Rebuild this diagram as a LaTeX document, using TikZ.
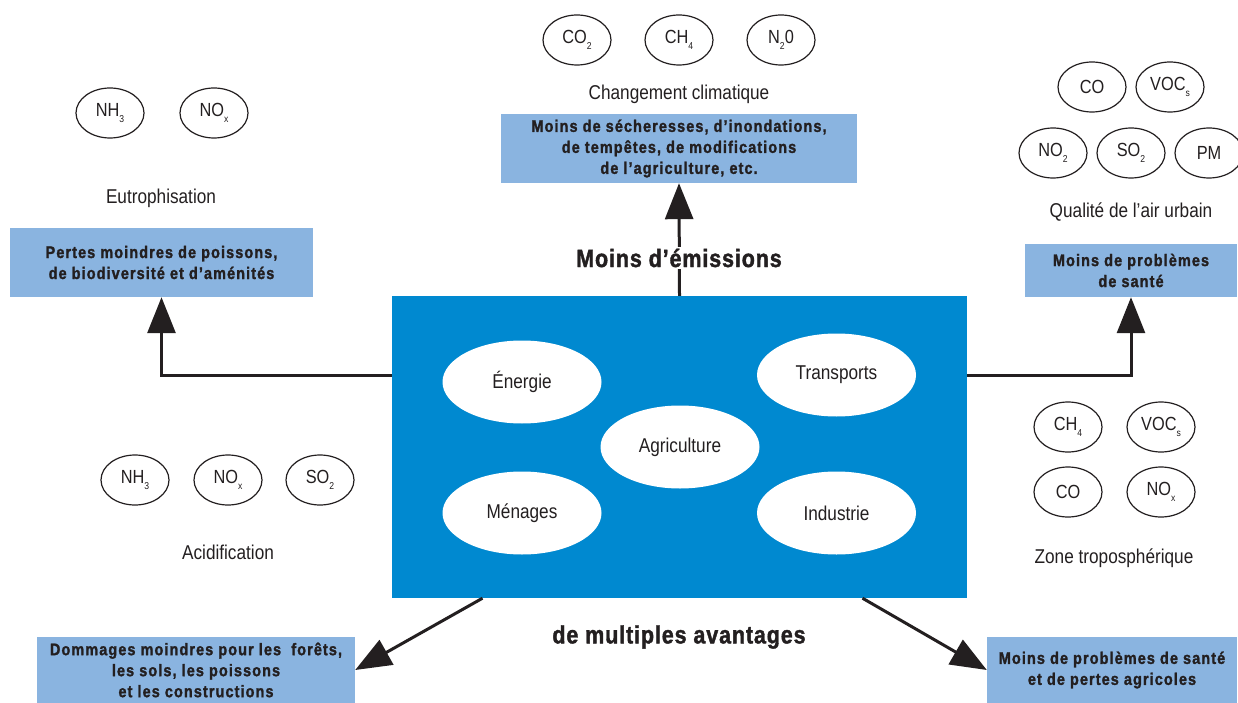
\documentclass[tikz,border=0pt]{standalone}
\usepackage{fontspec}
\setmainfont{Liberation Sans}[FakeStretch=0.86]
\usetikzlibrary{shapes.geometric,arrows.meta}
\definecolor{mainblue}{RGB}{0,137,208}
\definecolor{lightblue}{RGB}{138,180,224}
\definecolor{ink}{RGB}{35,31,32}
\newcommand{\lowidx}[1]{\raisebox{-0.55ex}{\fontsize{10}{10}\selectfont #1}}
\begin{document}
\begin{tikzpicture}[x=1pt,y=-1pt,every node/.style={text=ink},
 gas/.style={ellipse,draw=ink,line width=1.2pt,minimum width=68pt,minimum height=50pt,inner sep=0pt,font=\fontsize{19}{21}\selectfont},
 sector/.style={ellipse,fill=white,minimum width=159pt,minimum height=83pt,inner sep=0pt,font=\fontsize{20}{22}\selectfont},
 effect/.style={fill=lightblue,inner sep=0pt,align=center,font=\fontsize{16.8}{21}\selectfont\bfseries\addfontfeatures{LetterSpace=6.5,FakeBold=1.5}},
 theme/.style={font=\fontsize{20}{22}\selectfont},
 big/.style={font=\fontsize{25}{28}\selectfont\bfseries\addfontfeatures{LetterSpace=3.5,FakeBold=1.5}},
 arr/.style={draw=ink,line width=3pt,-{Triangle[width=28pt,length=36pt]}}]
\useasboundingbox (0,0) rectangle (1238,703);

% central block
\node[fill=mainblue,minimum width=575pt,minimum height=302pt,inner sep=0pt] (src) at (679.5,447) {};
\node[sector] (ener) at (522,382) {Énergie};
\node[sector] (trans) at (836.5,375) {Transports};
\node[sector] (agri) at (680,447) {Agriculture};
\node[sector] (men) at (522,513) {Ménages};
\node[sector] (ind) at (836.5,513) {Industrie};

% climate
\node[gas] (co2) at (577,40) {CO\lowidx{2}};
\node[gas] (ch4a) at (679,40) {CH\lowidx{4}};
\node[gas] (n2o) at (781,40) {N\lowidx{2}0};
\node[theme] (clim) at (679,94) {Changement climatique};
\node[effect,minimum width=356pt,minimum height=69pt] (climbox) at (679,148.5)
 {Moins de sécheresses, d’inondations,\\de tempêtes, de modifications\\de l’agriculture, etc.};

% eutrophication
\node[gas] (nh3a) at (110,113) {NH\lowidx{3}};
\node[gas] (noxa) at (214,113) {NO\lowidx{x}};
\node[theme] (eutro) at (161,198) {Eutrophisation};
\node[effect,minimum width=303pt,minimum height=69pt] (eutrobox) at (161.5,262.5)
 {Pertes moindres de poissons,\\de biodiversité et d’aménités};

% urban air
\node[gas] (coa) at (1092,87) {CO};
\node[gas] (voca) at (1170,87) {VOC\lowidx{s}};
\node[gas] (no2) at (1053,153) {NO\lowidx{2}};
\node[gas] (so2a) at (1131,153) {SO\lowidx{2}};
\node[gas] (pm) at (1209,153) {PM};
\node[theme] (urb) at (1131,212) {Qualité de l’air urbain};
\node[effect,minimum width=212pt,minimum height=53pt] (urbbox) at (1131,270.5)
 {Moins de problèmes\\de santé};

% acidification
\node[gas] (nh3b) at (135,480) {NH\lowidx{3}};
\node[gas] (noxb) at (228,480) {NO\lowidx{x}};
\node[gas] (so2b) at (320,480) {SO\lowidx{2}};
\node[theme] (acid) at (228,552) {Acidification};
\node[effect,minimum width=318pt,minimum height=66pt] (acidbox) at (196,670)
 {Dommages moindres pour les\ \ forêts,\\les sols, les poissons\\et les constructions};

% tropospheric ozone
\node[gas] (ch4b) at (1068,427) {CH\lowidx{4}};
\node[gas] (vocb) at (1161,427) {VOC\lowidx{s}};
\node[gas] (cob) at (1068,492) {CO};
\node[gas] (noxc) at (1161,492) {NO\lowidx{x}};
\node[theme] (tropo) at (1114,558) {Zone troposphérique};
\node[effect,minimum width=250pt,minimum height=66pt] (tropobox) at (1112,670)
 {Moins de problèmes de santé\\et de pertes agricoles};

% connectors
\draw[arr] (src.north) -- (climbox.south);
\node[big,fill=white,inner sep=2pt] (emis) at (679,258) {Moins d’émissions};
\draw[arr] ([yshift=72pt]src.west) -| (eutrobox.south);
\draw[arr] ([yshift=72pt]src.east) -| (urbbox.south);
\draw[arr] ([xshift=-197pt]src.south) -- (acidbox.east);
\draw[arr] ([xshift=183pt]src.south) -- (tropobox.west);
\node[big] (avant) at (679,637) {de multiples avantages};
\end{tikzpicture}
\end{document}
